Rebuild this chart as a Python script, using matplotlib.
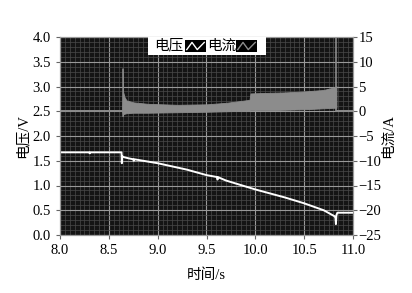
import numpy as np
import matplotlib
matplotlib.use('Agg')
import matplotlib.pyplot as plt
from matplotlib.ticker import MultipleLocator, FormatStrFormatter

plt.rcParams['font.family'] = ['Liberation Serif', 'Noto Sans CJK SC']

# voltage trace (s, V)
v_time = [8.0, 8.3, 8.305, 8.31, 8.63, 8.633, 8.636, 8.64, 8.66, 8.7, 8.75, 8.755, 8.76,
          9.0, 9.3, 9.5, 9.61, 9.613, 9.616, 9.7, 10.0, 10.3, 10.5, 10.7, 10.81,
          10.82, 10.825, 10.83, 10.84, 11.0]
v_volt = [1.67, 1.67, 1.65, 1.67, 1.67, 1.45, 1.60, 1.58, 1.57, 1.55, 1.53, 1.50, 1.53,
          1.45, 1.32, 1.21, 1.17, 1.12, 1.17, 1.10, 0.92, 0.76, 0.64, 0.50, 0.38,
          0.35, 0.22, 0.40, 0.45, 0.45]

# current: idle baseline and envelope of the oscillating part (s, A)
base_time = [8.0, 8.635]
base_amp = [0.0, 0.0]
end_time = [10.835, 11.0]
end_amp = [0.0, 0.0]
env_time = [8.635, 8.64, 8.645, 8.66, 8.68, 8.75, 8.9, 9.2, 9.5, 9.7, 9.9, 9.94,
            9.95, 10.1, 10.3, 10.5, 10.7, 10.8, 10.83]
env_high = [0.0, 8.7, 4.0, 2.9, 2.2, 1.8, 1.5, 1.3, 1.4, 1.7, 2.2, 2.3,
            3.6, 3.7, 3.8, 4.0, 4.3, 4.8, 5.1]
env_low = [0.0, -1.0, -0.6, -0.5, -0.4, -0.3, -0.3, -0.2, -0.1, 0.0, 0.1, 0.1,
           0.2, 0.2, 0.3, 0.4, 0.6, 0.7, 0.7]
spike_time = [10.83, 10.83]
spike_amp = [0.0, 15.0]

fig = plt.figure(figsize=(4.12, 2.93), dpi=100)
ax = fig.add_axes([60 / 412, 1 - 235 / 293, 293 / 412, 198 / 293])
ax2 = ax.twinx()

# current axis sits below and carries the dark background and grid
ax.set_zorder(ax2.get_zorder() + 1)
ax.patch.set_visible(False)
ax2.patch.set_visible(True)
ax2.set_facecolor('#141414')
ax2.xaxis.set_visible(True)

ax.set_xlim(8.0, 11.0)
ax.set_ylim(0.0, 4.0)
ax2.set_ylim(-25, 15)

ax.xaxis.set_major_locator(MultipleLocator(0.5))
ax.xaxis.set_minor_locator(MultipleLocator(0.05))
ax.yaxis.set_major_locator(MultipleLocator(0.5))
ax2.yaxis.set_major_locator(MultipleLocator(5))
ax2.yaxis.set_minor_locator(MultipleLocator(1))
ax.xaxis.set_major_formatter(FormatStrFormatter('%.1f'))
ax.yaxis.set_major_formatter(FormatStrFormatter('%.1f'))

ax2.set_axisbelow(True)
ax2.grid(which='major', color='#999999', linewidth=0.8)
ax2.grid(which='minor', color='#4a4a4a', linewidth=0.5)
ax2.tick_params(which='minor', length=0)
ax2.tick_params(axis='x', which='both', length=0, labelbottom=False, labeltop=False)
ax.tick_params(which='minor', length=0)
ax.tick_params(which='major', length=3, labelsize=10.5, direction='out', color='#666666')
ax2.tick_params(axis='y', which='major', length=3, labelsize=10.5, direction='out', pad=1,
                color='#666666')

for sp in list(ax.spines.values()) + list(ax2.spines.values()):
    sp.set_color('#9a9a9a')

# current (gray)
ax2.fill_between(env_time, env_low, env_high, color='#8c8c8c', linewidth=0.6,
                 edgecolor='#8c8c8c')
ax2.plot(base_time, base_amp, color='#8c8c8c', linewidth=1.4)
ax2.plot(end_time, end_amp, color='#8c8c8c', linewidth=1.4)
ax2.plot(spike_time, spike_amp, color='#8c8c8c', linewidth=1.2)

# voltage (white)
ax.plot(v_time, v_volt, color='white', linewidth=1.4)

ax.set_xlabel('时间/s', fontsize=10.5, labelpad=8)
ax.set_ylabel('电压/V', fontsize=10.5, labelpad=2)
ax2.set_ylabel('电流/A', fontsize=10.5, labelpad=0)

# legend box
fig.patches.append(plt.Rectangle((148 / 412, 1 - 55 / 293), 118 / 412, 18 / 293,
                                 transform=fig.transFigure, facecolor='white',
                                 edgecolor='none', zorder=5))
fig.text(169 / 412, 1 - 46 / 293, '电压', fontsize=10.5, ha='center', va='center', zorder=6)
fig.text(222 / 412, 1 - 46 / 293, '电流', fontsize=10.5, ha='center', va='center', zorder=6)
for x0, col in [(185, 'white'), (236, '#8c8c8c')]:
    sw = fig.add_axes([x0 / 412, 1 - 52 / 293, 21 / 412, 12 / 293], zorder=10)
    sw.set_facecolor('black')
    sw.plot([0, 0.3, 0.6, 1], [0.2, 0.8, 0.2, 0.8], color=col, linewidth=1)
    sw.set_xlim(-0.1, 1.1)
    sw.set_ylim(0, 1)
    sw.set_xticks([])
    sw.set_yticks([])
    for sp in sw.spines.values():
        sp.set_visible(False)

fig.savefig('out.png', dpi=100)
